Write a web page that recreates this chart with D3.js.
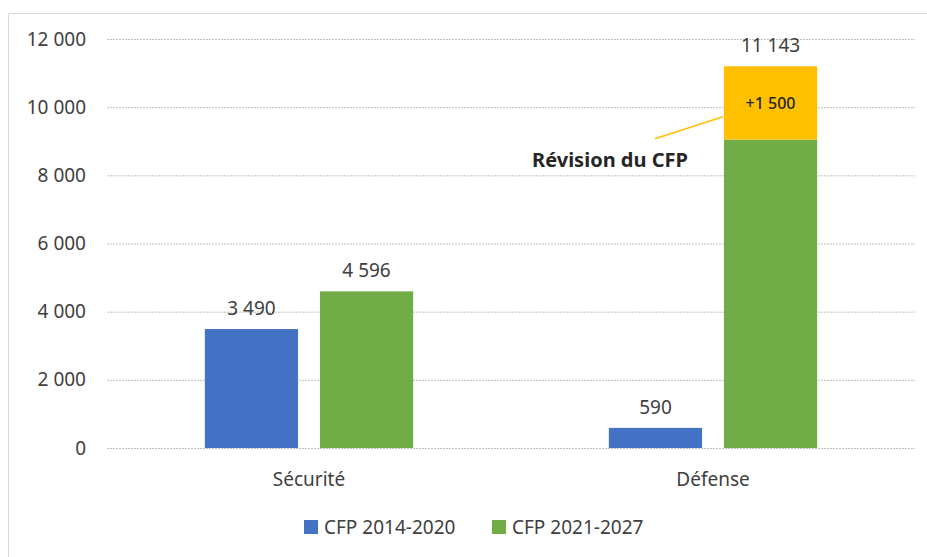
<!DOCTYPE html>
<html>
<head>
<meta charset="utf-8">
<script src="https://cdn.jsdelivr.net/npm/d3@7"></script>
<style>
  body { margin: 0; background: #fff; }
  svg { display: block; font-family: "Noto Sans", sans-serif; }
</style>
</head>
<body>
<svg id="chart" width="927" height="557"></svg>
<script>
// data
var categories = ['Sécurité', 'Défense'];
var seriesNames = ['CFP 2014-2020', 'CFP 2021-2027'];
var cfp2014 = [3490, 590];
var cfp2021 = [4596, 9050];      // green part of the bar
var revision = [0, 2150];        // orange part on top of the green bar
var topLabels2014 = ['3 490', '590'];
var topLabels2021 = ['4 596', '11 143'];
var revisionLabel = '+1 500';
var revisionNote = 'Révision du CFP';
var yTicks = [0, 2000, 4000, 6000, 8000, 10000, 12000];
var colors = ['#4472c4', '#70ad47', '#ffc000'];

var svg = d3.select('#chart');
var padding = [39, 12, 109, 107]; // top right bottom left
var W = 927, H = 557;
var textColor = '#404040';

// frame
svg.append('path')
    .attr('d', 'M8.5,557 V13.5 H927')
    .attr('fill', 'none')
    .attr('stroke', '#d9d9d9')
    .attr('stroke-width', 1);

var x0 = d3.scaleBand().domain(categories).range([padding[3], W - padding[1]]);
var x1 = d3.scaleBand().domain(seriesNames).range([0, x0.bandwidth()])
    .paddingInner(0.19).paddingOuter(0.85);
var y = d3.scaleLinear().domain([0, 12000]).range([H - padding[2], padding[0]]);

var locale = d3.formatLocale({ decimal: ',', thousands: ' ', grouping: [3] });
var fmt = locale.format(',d');

// y axis + gridlines
var yAxis = d3.axisLeft(y).tickValues(yTicks).tickFormat(fmt)
    .tickSizeInner(-(W - padding[1] - padding[3])).tickSizeOuter(0).tickPadding(21);
var yG = svg.append('g').attr('transform', 'translate(' + padding[3] + ',0)').call(yAxis);
yG.select('.domain').remove();
yG.selectAll('.tick line')
    .attr('stroke', '#bfbfbf')
    .attr('stroke-dasharray', '2,1');
yG.selectAll('.tick text')
    .attr('fill', textColor)
    .style('font-size', '19px')
    .style('font-family', '"Noto Sans", sans-serif');

// bars
var g = svg.append('g');
categories.forEach(function (c, i) {
    var cx = x0(c);
    var bx1 = cx + x1(seriesNames[0]);
    var bx2 = cx + x1(seriesNames[1]);
    var bw = x1.bandwidth();
    var labelTop = cfp2021[i];

    g.append('rect')
        .attr('x', bx1).attr('width', bw)
        .attr('y', y(cfp2014[i])).attr('height', y(0) - y(cfp2014[i]))
        .attr('fill', colors[0]);
    g.append('rect')
        .attr('x', bx2).attr('width', bw)
        .attr('y', y(cfp2021[i])).attr('height', y(0) - y(cfp2021[i]))
        .attr('fill', colors[1]);
    if (revision[i]) {
        var top = cfp2021[i] + revision[i];
        labelTop = top;
        g.append('rect')
            .attr('x', bx2).attr('width', bw)
            .attr('y', y(top)).attr('height', y(cfp2021[i]) - y(top))
            .attr('fill', colors[2]);
        g.append('text')
            .attr('x', bx2 + bw / 2)
            .attr('y', (y(top) + y(cfp2021[i])) / 2 + 6)
            .attr('text-anchor', 'middle')
            .attr('fill', '#262626')
            .style('font-size', '16px')
            .style('font-weight', 500)
            .text(revisionLabel);
        // leader line and note
        var yMid = y(cfp2021[i] + revision[i] * 0.31);
        g.append('line')
            .attr('x1', bx2 - 1).attr('y1', yMid)
            .attr('x2', bx2 - 69).attr('y2', yMid + 22)
            .attr('stroke', colors[2]).attr('stroke-width', 1.5);
        g.append('text')
            .attr('x', bx2 - 36)
            .attr('y', yMid + 50)
            .attr('text-anchor', 'end')
            .attr('fill', '#262626')
            .style('font-size', '20px')
            .style('font-weight', 'bold')
            .text(revisionNote);
    }

    g.append('text')
        .attr('x', bx1 + bw / 2).attr('y', y(cfp2014[i]) - 14)
        .attr('text-anchor', 'middle').attr('fill', textColor)
        .style('font-size', '19px')
        .text(topLabels2014[i]);
    g.append('text')
        .attr('x', bx2 + bw / 2).attr('y', y(labelTop) - 14)
        .attr('text-anchor', 'middle').attr('fill', textColor)
        .style('font-size', '19px')
        .text(topLabels2021[i]);

    // category label
    g.append('text')
        .attr('x', cx + x0.bandwidth() / 2).attr('y', y(0) + 38)
        .attr('text-anchor', 'middle').attr('fill', textColor)
        .style('font-size', '19px')
        .text(c);
});

// legend
var legend = svg.append('g').attr('transform', 'translate(304,520)');
var lx = [0, 188];
seriesNames.forEach(function (s, i) {
    var item = legend.append('g').attr('transform', 'translate(' + lx[i] + ',0)');
    item.append('rect').attr('width', 14).attr('height', 14).attr('fill', colors[i]);
    item.append('text').attr('x', 20).attr('y', 14)
        .attr('fill', textColor)
        .style('font-size', '19px')
        .text(s);
});
</script>
</body>
</html>
